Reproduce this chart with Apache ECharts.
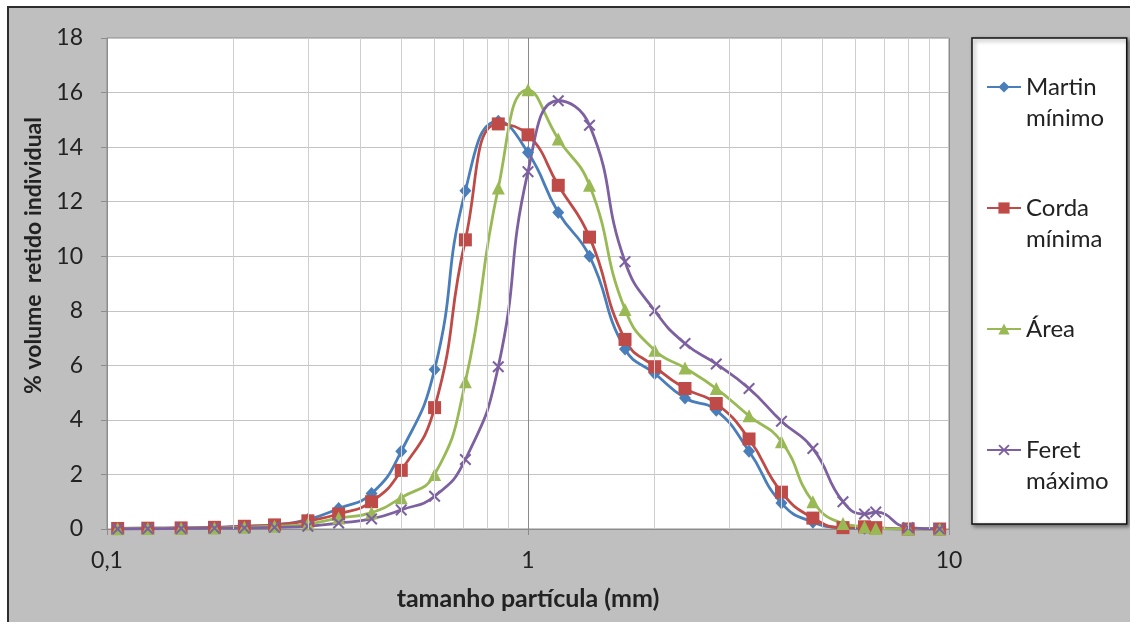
<!DOCTYPE html>
<html>
<head>
<meta charset="utf-8">
<script src="https://cdn.jsdelivr.net/npm/echarts@6/dist/echarts.min.js"></script>
<style>
  html, body { margin: 0; padding: 0; background: #fff; overflow: hidden; }
  #frame {
    position: absolute; left: 7px; top: 6px;
    width: 1140px; height: 630px;
    border: 2px solid #2e2e2e; background: #bfbfbf;
  }
  #chart { position: absolute; left: 0; top: 0; width: 1121px; height: 614px; }
</style>
</head>
<body>
<div id="frame"><div id="chart"></div></div>
<script>
  // particle sizes (mm), sieve openings
  var sizes = [0.106, 0.125, 0.150, 0.180, 0.212, 0.250, 0.300, 0.355, 0.425, 0.500,
    0.600, 0.710, 0.850, 1.00, 1.18, 1.40, 1.70, 2.00, 2.36, 2.80,
    3.35, 4.00, 4.75, 5.60, 6.30, 6.70, 8.00, 9.50]

  var martinMinimo = [0.02, 0.03, 0.04, 0.06, 0.1, 0.15, 0.35, 0.75, 1.3, 2.85,
    5.85, 12.4, 14.95, 13.8, 11.6, 10.0, 6.6, 5.7, 4.8, 4.35,
    2.85, 0.95, 0.25, 0.05, 0.03, 0.02, 0, 0]
  var cordaMinima = [0.02, 0.03, 0.04, 0.06, 0.1, 0.15, 0.3, 0.55, 1.0, 2.15,
    4.45, 10.6, 14.85, 14.45, 12.6, 10.7, 6.95, 5.95, 5.15, 4.6,
    3.3, 1.35, 0.4, 0.05, 0.08, 0.05, 0, 0]
  var area = [0.01, 0.02, 0.03, 0.04, 0.06, 0.1, 0.18, 0.4, 0.6, 1.15,
    2.0, 5.4, 12.5, 16.1, 14.3, 12.6, 8.05, 6.55, 5.9, 5.15,
    4.15, 3.2, 1.0, 0.2, 0.08, 0.02, 0, 0]
  var feretMaximo = [0, 0.01, 0.02, 0.03, 0.04, 0.06, 0.1, 0.22, 0.37, 0.7,
    1.2, 2.55, 5.95, 13.1, 15.7, 14.8, 9.8, 8.0, 6.8, 6.05,
    5.15, 3.95, 2.95, 1.0, 0.55, 0.62, 0.05, 0]

  // minor vertical gridlines of the log axis
  var minorTicks = [0.2, 0.3, 0.4, 0.5, 0.6, 0.7, 0.8, 0.9, 2, 3, 4, 5, 6, 7, 8, 9]

  var fontFam = 'Lato, "Open Sans", sans-serif'
  var crossPath = 'path://M0,1.2L1.2,0L5,3.8L8.8,0L10,1.2L6.2,5L10,8.8L8.8,10L5,6.2L1.2,10L0,8.8L3.8,5Z'

  function pairs(ys) {
    return sizes.map(function (x, i) { return [x, ys[i]] })
  }

  function lineSeries(name, ys, color, symbol, size) {
    return {
      name: name,
      type: 'line',
      smooth: 0.5,
      data: pairs(ys),
      symbol: symbol,
      symbolSize: size,
      lineStyle: { color: color, width: 2.8 },
      itemStyle: { color: color },
      z: 3
    }
  }

  var chart = echarts.init(document.getElementById('chart'))
  chart.setOption({
    animation: false,
    backgroundColor: 'transparent',
    textStyle: { fontFamily: fontFam },
    grid: {
      left: 98, top: 30, width: 842, height: 491,
      show: true, backgroundColor: '#fff', borderColor: '#8c8c8c', borderWidth: 1
    },
    legend: {
      orient: 'vertical',
      left: 963, top: 30,
      padding: [6, 18, 31, 14],
      itemWidth: 34, itemHeight: 14,
      itemGap: 35,
      backgroundColor: '#fff',
      borderColor: '#111', borderWidth: 1.5,
      shadowColor: 'rgba(0,0,0,0.45)', shadowBlur: 4, shadowOffsetX: 2, shadowOffsetY: 2,
      // icon sits on the first line of each two-line label
      formatter: function (name) {
        var parts = name.split(' ')
        return '{e| }\n{t|' + parts[0] + '}\n{t|' + (parts[1] || ' ') + '}'
      },
      textStyle: {
        fontFamily: fontFam,
        rich: {
          e: { fontSize: 24, lineHeight: 31, color: '#222', fontFamily: fontFam },
          t: { fontSize: 24, lineHeight: 31, color: '#222', fontFamily: fontFam }
        }
      },
      data: ['Martin mínimo', 'Corda mínima', 'Área', 'Feret máximo']
    },
    xAxis: {
      type: 'log',
      logBase: 10,
      min: 0.1, max: 10,
      name: 'tamanho partícula (mm)',
      nameLocation: 'middle',
      nameGap: 57,
      nameTextStyle: { fontSize: 25, fontWeight: 'bold', color: '#222' },
      axisLine: { lineStyle: { color: '#8c8c8c' } },
      axisTick: { show: true, length: 6, lineStyle: { color: '#8c8c8c' } },
      axisLabel: {
        fontSize: 23, color: '#222', margin: 20,
        formatter: function (v) { return String(v).replace('.', ',') }
      },
      splitLine: { show: true, lineStyle: { color: '#8a8a8a' } }
    },
    yAxis: {
      type: 'value',
      min: 0, max: 18, interval: 2,
      name: '% volume  retido individual',
      nameLocation: 'middle',
      nameGap: 60,
      nameTextStyle: { fontSize: 23, fontWeight: 'bold', color: '#222', padding: [0, 0, 0, 56] },
      axisLine: { show: true, lineStyle: { color: '#8c8c8c' } },
      axisTick: { show: true, length: 6, lineStyle: { color: '#8c8c8c' } },
      axisLabel: { fontSize: 23, color: '#222', margin: 24 },
      splitLine: { show: true, lineStyle: { color: '#c4c4c4' } }
    },
    series: [
      {
        type: 'line',
        data: [],
        silent: true,
        z: 1,
        markLine: {
          silent: true,
          symbol: 'none',
          label: { show: false },
          lineStyle: { color: '#cfcfcf', width: 1, type: 'solid' },
          data: minorTicks.map(function (v) { return { xAxis: v } })
        }
      },
      lineSeries('Martin mínimo', martinMinimo, '#4a7ebb', 'diamond', [12, 13]),
      lineSeries('Corda mínima', cordaMinima, '#be4b48', 'rect', 13),
      lineSeries('Área', area, '#98b954', 'triangle', 13),
      lineSeries('Feret máximo', feretMaximo, '#7d60a0', crossPath, 12)
    ]
  })
</script>
</body>
</html>
